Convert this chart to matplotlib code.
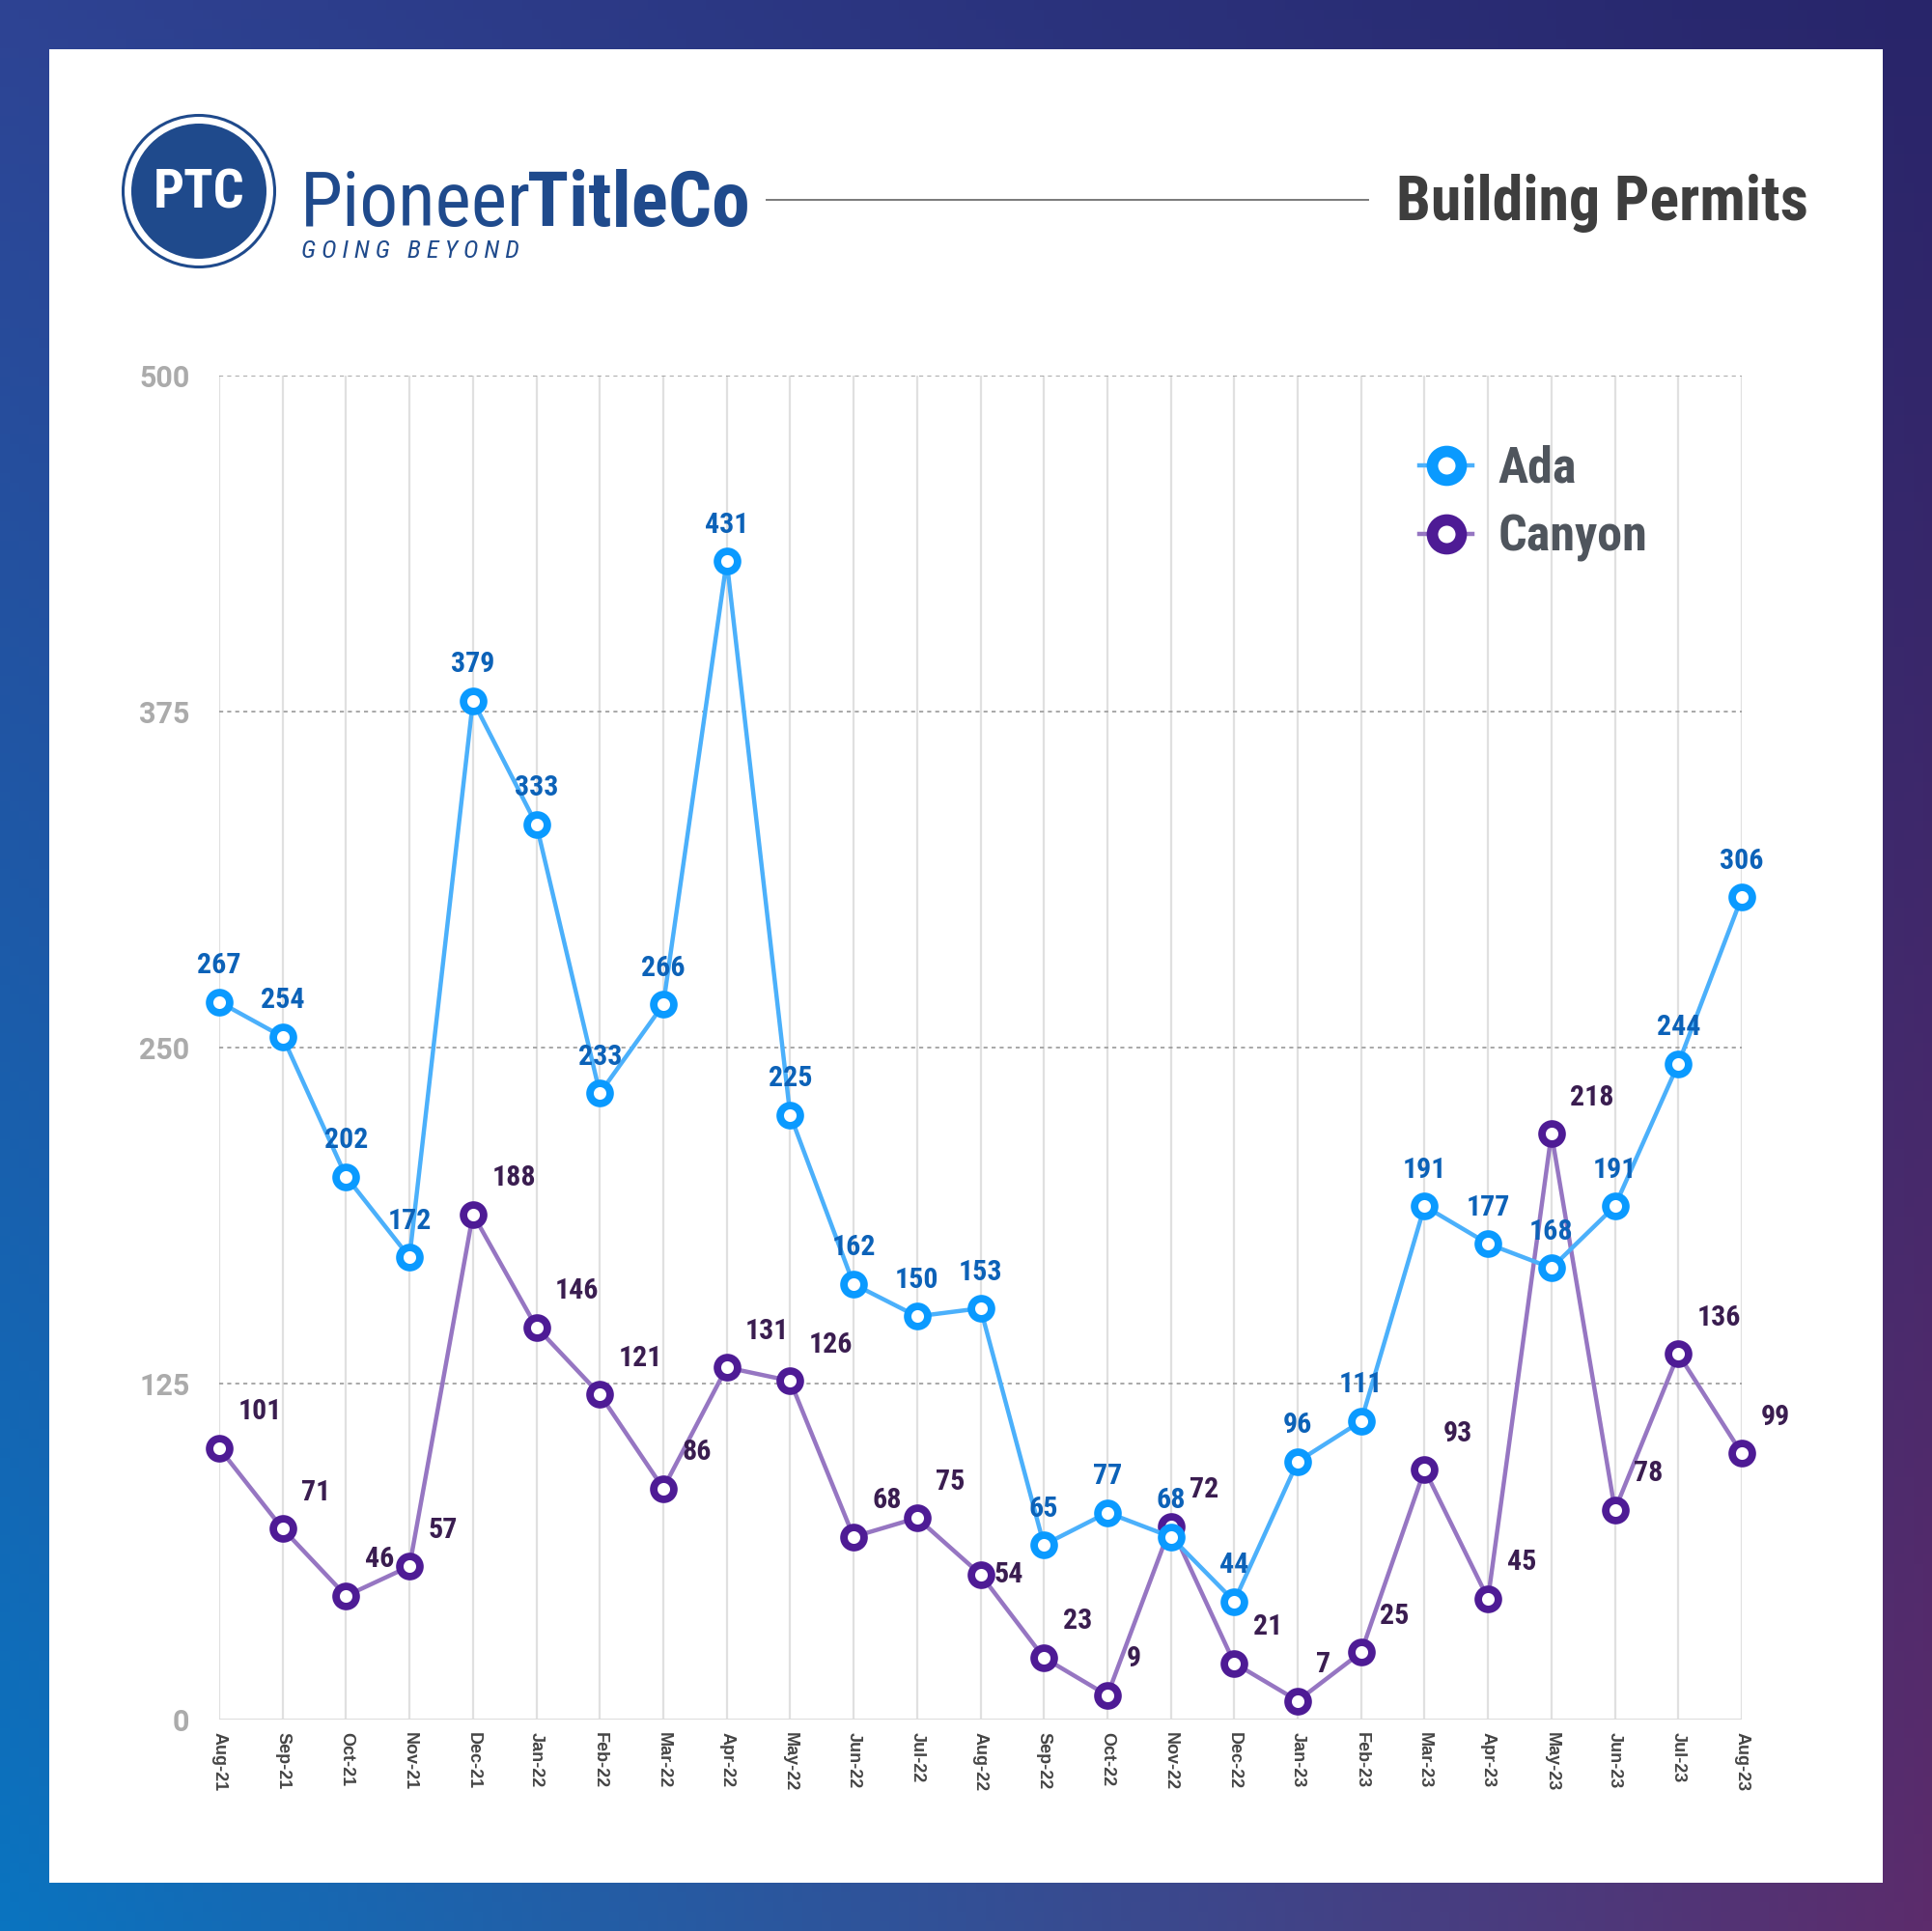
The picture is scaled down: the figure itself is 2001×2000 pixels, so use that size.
import matplotlib
matplotlib.use("Agg")
import matplotlib.pyplot as plt
import numpy as np
from matplotlib import font_manager
from matplotlib.font_manager import FontProperties
from matplotlib.textpath import TextPath
from matplotlib.patches import Circle, Rectangle
from matplotlib.lines import Line2D

# ---------------- data ----------------
months = ["Aug-21", "Sep-21", "Oct-21", "Nov-21", "Dec-21", "Jan-22", "Feb-22",
          "Mar-22", "Apr-22", "May-22", "Jun-22", "Jul-22", "Aug-22", "Sep-22",
          "Oct-22", "Nov-22", "Dec-22", "Jan-23", "Feb-23", "Mar-23", "Apr-23",
          "May-23", "Jun-23", "Jul-23", "Aug-23"]
ada = [267, 254, 202, 172, 379, 333, 233, 266, 431, 225, 162, 150, 153, 65,
       77, 68, 44, 96, 111, 191, 177, 168, 191, 244, 306]
canyon = [101, 71, 46, 57, 188, 146, 121, 86, 131, 126, 68, 75, 54, 23,
          9, 72, 21, 7, 25, 93, 45, 218, 78, 136, 99]
yticks = [0, 125, 250, 375, 500]
series_names = ["Ada", "Canyon"]
title = "Building Permits"

# ---------------- fonts ----------------
names = {f.name for f in font_manager.fontManager.ttflist}
def pick(*cands):
    for c in cands:
        if c in names:
            return c
    return "DejaVu Sans"
COND = pick("Roboto Condensed", "Liberation Sans Narrow", "Roboto")
ROBOTO = pick("Roboto", "DejaVu Sans")
ARIAL = pick("Liberation Sans", "DejaVu Sans")

DPI = 100
W, H = 2001, 2000

def fit_size(s, family, weight, target_px, style="normal"):
    fp = FontProperties(family=family, weight=weight, style=style, size=100)
    w = TextPath((0, 0), s, prop=fp).get_extents().width
    return 100 * target_px / (w * DPI / 72.0)

fig = plt.figure(figsize=(W / DPI, H / DPI), dpi=DPI)

# ---------------- background gradient + white panel ----------------
bg = fig.add_axes([0, 0, 1, 1], zorder=0)
tl = np.array([0x2E, 0x43, 0x93]) / 255
tr = np.array([0x28, 0x25, 0x6A]) / 255
bl = np.array([0x0A, 0x74, 0xC0]) / 255
br = np.array([0x5C, 0x2C, 0x6C]) / 255
n = 200
u = np.linspace(0, 1, n)[None, :, None]
v = np.linspace(0, 1, n)[:, None, None]
grad = (1 - v) * ((1 - u) * tl + u * tr) + v * ((1 - u) * bl + u * br)
bg.imshow(grad, extent=[0, 1, 0, 1], aspect="auto", origin="upper")
bg.add_patch(Rectangle((51 / W, 1 - 1950 / H), 1899 / W, 1899 / H,
                       facecolor="white", edgecolor="none"))
bg.set_xlim(0, 1)
bg.set_ylim(0, 1)
bg.axis("off")

# ---------------- main chart ----------------
ax = fig.add_axes([227 / W, 219 / H, 1577 / W, 1392 / H], zorder=1)
ax.set_facecolor("none")
x = np.arange(len(months))
ax.set_xlim(0, len(months) - 1)
ax.set_ylim(yticks[0], yticks[-1])

for yv in yticks[1:]:
    ax.axhline(yv, color="#9a9a9a", lw=1.2, ls=(0, (2.5, 2.5)), zorder=1)
for xi in x:
    ax.axvline(xi, color="#e0e0e0", lw=1.6, zorder=0.5)
ax.axhline(0, color="#dcdcdc", lw=2.2, zorder=1)
for s in ax.spines.values():
    s.set_visible(False)

ax.set_yticks(yticks)
ax.set_yticklabels([str(t) for t in yticks], fontfamily=ROBOTO,
                   fontweight="bold", fontsize=22, color="#ABABAB")
ax.set_xticks(x)
ax.set_xticklabels(months, rotation=270, fontfamily=ARIAL, fontweight="bold",
                   fontsize=13, color="#454545")
ax.tick_params(axis="y", length=0, pad=22)
ax.tick_params(axis="x", length=0, pad=9)

ada_line, ada_mark, ada_lab = "#4BB0FB", "#0A9AFF", "#0C62B8"
can_line, can_mark, can_lab = "#9676C2", "#4E1B95", "#3A1D50"

ax.plot(x, canyon, color=can_line, lw=3.2, zorder=3, clip_on=False)
ax.plot(x, canyon, ls="none", marker="o", ms=15, mfc="white", mec=can_mark,
        mew=5.6, zorder=4, clip_on=False)
ax.plot(x, ada, color=ada_line, lw=3.2, zorder=5, clip_on=False)
ax.plot(x, ada, ls="none", marker="o", ms=15, mfc="white", mec=ada_mark,
        mew=5.6, zorder=6, clip_on=False)

lab_fs = 21.5
for i, v_ in enumerate(ada):
    ax.annotate(str(v_), (i, v_), xytext=(0, 27), textcoords="offset points",
                ha="center", va="center", fontsize=lab_fs, fontweight="bold",
                fontfamily=COND, color=ada_lab, zorder=7, annotation_clip=False)
special = {12: (10, 0)}
for i, v_ in enumerate(canyon):
    off = special.get(i, (14, 27))
    ax.annotate(str(v_), (i, v_), xytext=off, textcoords="offset points",
                ha="left", va="center", fontsize=lab_fs, fontweight="bold",
                fontfamily=COND, color=can_lab, zorder=7, annotation_clip=False)

handles = [Line2D([0], [0], color=ada_line, lw=3.2, marker="o", ms=21.5,
                  mfc="white", mec=ada_mark, mew=8.5),
           Line2D([0], [0], color=can_line, lw=3.2, marker="o", ms=21.5,
                  mfc="white", mec=can_mark, mew=8.5)]
leg = ax.legend(handles, series_names, loc="upper left",
                bbox_to_anchor=(1470 / W, 1 - 461 / H),
                bbox_transform=fig.transFigure, frameon=False, borderpad=0,
                borderaxespad=0, handlelength=1.06, handletextpad=0.5,
                labelspacing=0.40,
                prop=FontProperties(family=COND, weight="bold", size=37.5))
for t in leg.get_texts():
    t.set_color("#4F555D")

# ---------------- header / logo ----------------
ov = fig.add_axes([0, 0, 1, 1], zorder=2)
ov.set_facecolor("none")
ov.set_xlim(0, W)
ov.set_ylim(H, 0)
ov.axis("off")

blue = "#1F4A8C"
cx, cy = 206, 198
ov.add_patch(Circle((cx, cy), 78.5, facecolor="none", edgecolor=blue, lw=2.2))
ov.add_patch(Circle((cx, cy), 70, facecolor=blue, edgecolor="none"))
ptc_fs = fit_size("PTC", COND, "bold", 90)
ov.text(cx, cy + 2, "PTC", ha="center", va="center", fontsize=ptc_fs,
        fontweight="bold", fontfamily=COND, color="white")

# PioneerTitleCo word mark, fitted to width ~461 px
fp_reg = FontProperties(family=COND, weight="normal", size=100)
fp_bold = FontProperties(family=COND, weight="bold", size=100)
w1 = TextPath((0, 0), "Pioneer", prop=fp_reg).get_extents().width
w2 = TextPath((0, 0), "TitleCo", prop=fp_bold).get_extents().width
scale = 458 / ((w1 + w2) * DPI / 72.0)
fs_word = 100 * scale
ov.text(311, 234, "Pioneer", ha="left", va="baseline", fontsize=fs_word,
        fontfamily=COND, fontweight="normal", color=blue)
ov.text(311 + w1 * scale * DPI / 72.0 + 3, 234, "TitleCo", ha="left",
        va="baseline", fontsize=fs_word, fontfamily=COND, fontweight="bold",
        color=blue)
gb = "G O I N G   B E Y O N D"
ov.text(312, 267, gb, ha="left", va="baseline",
        fontsize=fit_size(gb, COND, "normal", 224, style="italic"),
        fontfamily=COND, style="italic", color=blue)

ov.plot([794, 1417], [207, 207], color="#7a7a7a", lw=1.4)
ov.text(1873, 228, title, ha="right", va="baseline",
        fontsize=fit_size(title, COND, "bold", 421), fontfamily=COND,
        fontweight="bold", color="#3E3E3E")

fig.savefig("out.png", dpi=DPI)
